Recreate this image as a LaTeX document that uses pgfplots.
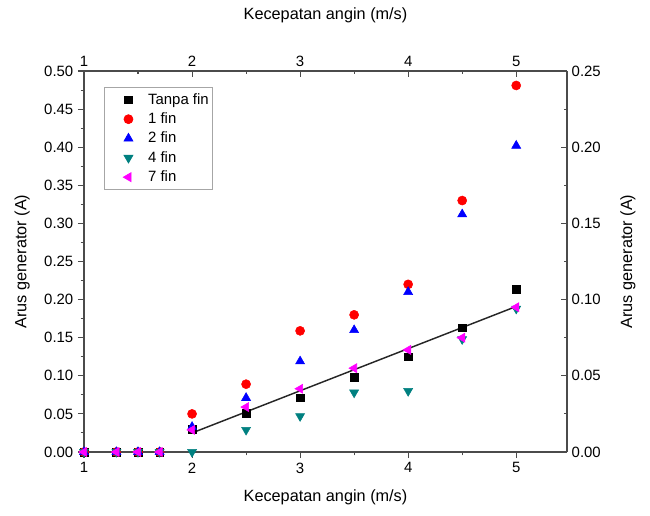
\documentclass[border=0pt]{standalone}
\usepackage{fontspec}
\setmainfont{Liberation Sans}
\usepackage{pgfplots}
\usepackage{pgfplotstable}
\pgfplotsset{compat=1.18}

\definecolor{axgray}{RGB}{75,75,75}
\definecolor{finred}{RGB}{255,0,0}
\definecolor{finblue}{RGB}{0,0,255}
\definecolor{finteal}{RGB}{0,128,128}
\definecolor{finmag}{RGB}{255,0,255}

% wind speed (m/s) vs generator current (A)
\pgfplotstableread{
v    tanpa  satu   dua    empat  tujuh
1.0  0      0      0      0      0
1.3  0      0      0      0      0
1.5  0      0      0      0      0
1.7  0      0      0      0      0
2.0  0.030  0.050  0.033  0.000  0.029
2.5  0.051  0.089  0.071  0.029  0.059
3.0  0.071  0.159  0.119  0.047  0.083
3.5  0.098  0.180  0.160  0.078  0.110
4.0  0.125  0.220  0.210  0.080  0.134
4.5  0.163  0.330  0.312  0.148  0.150
5.0  0.214  0.481  0.402  0.188  0.190
}\arus

\pgfplotsset{
  pts/.style={only marks,
    legend image code/.code={%
      \path (-17bp,0bp) (12.5bp,0bp);
      \draw[##1] plot coordinates {(0bp,0bp)};}},
}
\newcommand{\labelfont}{\fontsize{12.2bp}{14.6bp}\selectfont}

\begin{document}
\begin{tikzpicture}
\useasboundingbox (-63bp,-48bp) rectangle (424.5bp,339bp);
\pgfplotsset{
  common/.style={
    width=362.25bp, height=285.75bp, scale only axis,
    xmin=1, xmax=5.47,
    font=\fontsize{11.2bp}{13.4bp}\selectfont,
    /pgf/number format/assume math mode=true,
    axis line style={axgray, line width=0.9pt},
    major tick length=4.5bp, minor tick length=2.5bp,
    every tick/.style={axgray, line width=0.8pt},
    xtick={1,2,3,4,5}, minor x tick num=1,
    minor y tick num=1,
    yticklabel style={/pgf/number format/.cd, fixed, fixed zerofill, precision=2},
  }
}
\begin{axis}[common,
  ymin=0, ymax=0.5,
  axis x line*=bottom, axis y line*=left,
  tick align=outside,
  ytick={0,0.05,0.1,0.15,0.2,0.25,0.3,0.35,0.4,0.45,0.5},
  clip=false,
  xlabel={\labelfont Kecepatan angin (m/s)},
  ylabel={\labelfont Arus generator (A)},
  every axis x label/.style={at={(axis description cs:0.5,-0.12)}, anchor=center},
  every axis y label/.style={at={(axis description cs:-0.128,0.5)}, anchor=center, rotate=90},
  legend cell align=left,
  legend style={at={(0.041,0.958)}, anchor=north west, draw=gray!70,
    line width=0.5pt, font=\fontsize{11.2bp}{13.4bp}\selectfont,
    row sep=0.9bp, inner xsep=1bp, inner ysep=2.6bp},
]
\addplot[pts, mark=square*, mark size=2.9bp, black] table[x=v, y=tanpa] {\arus};
\addlegendentry{Tanpa fin}
\addplot[pts, mark=*, mark size=3.4bp, finred] table[x=v, y=satu] {\arus};
\addlegendentry{1 fin}
\addplot[pts, mark=triangle*, mark size=3.9bp, finblue] table[x=v, y=dua] {\arus};
\addlegendentry{2 fin}
\addplot[pts, mark=triangle*, mark size=3.9bp, finteal, mark options={rotate=180}] table[x=v, y=empat] {\arus};
\addlegendentry{4 fin}
\addplot[pts, mark=triangle*, mark size=3.9bp, finmag, mark options={rotate=90}] table[x=v, y=tujuh] {\arus};
\addlegendentry{7 fin}
% linear fit of the 7-fin series
\addplot[black!85, line width=1.1pt, forget plot] coordinates {(2,0.025) (5,0.191)};
\end{axis}

\begin{axis}[common,
  ymin=0, ymax=0.25,
  axis x line*=top, axis y line*=right,
  tick align=inside,
  ytick={0,0.05,0.1,0.15,0.2,0.25},
  xlabel={\labelfont Kecepatan angin (m/s)},
  ylabel={\labelfont Arus generator (A)},
  every axis x label/.style={at={(axis description cs:0.5,1.147)}, anchor=center},
  every axis y label/.style={at={(axis description cs:1.126,0.5)}, anchor=center, rotate=90},
]
\end{axis}
\end{tikzpicture}
\end{document}
